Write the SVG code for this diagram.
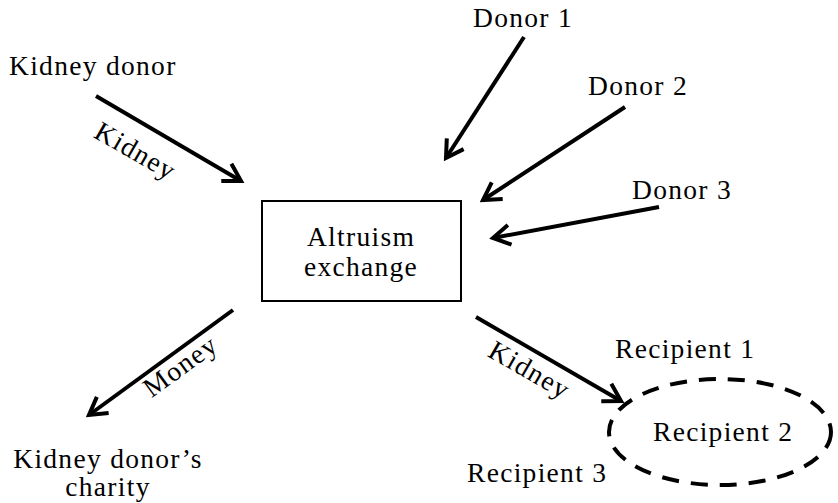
<svg xmlns="http://www.w3.org/2000/svg" width="838" height="503" viewBox="0 0 838 503">
<style>
text{font-size:27.5px;letter-spacing:1.3px;fill:#000}
.c{text-anchor:middle}
.arr{stroke:#000;stroke-width:4;fill:none;marker-end:url(#ah)}
</style>
<defs>
<marker id="ah" markerUnits="userSpaceOnUse" viewBox="-20 -12 24 24" markerWidth="24" markerHeight="24" refX="0" refY="0" orient="auto">
<polyline points="-17,-10 0,0 -17,10" fill="none" stroke="#000" stroke-width="4"/>
</marker>
</defs>
<rect width="838" height="503" fill="#fff"/>
<g font-family="Liberation Serif, Times New Roman, serif">
<g id="connectors">
<line class="arr" x1="96" y1="96" x2="241" y2="181"/>
<line class="arr" x1="524" y1="37" x2="446" y2="158"/>
<line class="arr" x1="625" y1="107" x2="483" y2="200"/>
<line class="arr" x1="659" y1="207" x2="493" y2="238"/>
<line class="arr" x1="233" y1="310" x2="89" y2="415"/>
<line class="arr" x1="476" y1="317" x2="621" y2="401"/>
<text class="c" transform="translate(135,152) rotate(30)" y="8">Kidney</text>
<text class="c" transform="translate(181,367) rotate(-36)" y="8">Money</text>
<text class="c" transform="translate(529,371) rotate(30)" y="8">Kidney</text>
</g>
<g id="exchange">
<rect x="262" y="201" width="199" height="100" fill="none" stroke="#000" stroke-width="2"/>
<text class="c" x="361" y="246">Altruism</text>
<text class="c" x="361" y="276">exchange</text>
</g>
<g id="kidney-donor"><text x="9" y="75">Kidney donor</text></g>
<g id="donor1"><text x="473" y="27">Donor 1</text></g>
<g id="donor2"><text x="588" y="95">Donor 2</text></g>
<g id="donor3"><text x="632" y="199">Donor 3</text></g>
<g id="charity">
<text class="c" x="108" y="468">Kidney donor’s</text>
<text class="c" x="108" y="496">charity</text>
</g>
<g id="recipient1"><text x="615" y="358">Recipient 1</text></g>
<g id="recipients">
<ellipse cx="720" cy="432" rx="111" ry="53" fill="none" stroke="#000" stroke-width="4" stroke-dasharray="17,12"/>
<text x="653" y="441">Recipient 2</text>
</g>
<g id="recipient3"><text x="467" y="482">Recipient 3</text></g>
</g>
</svg>
